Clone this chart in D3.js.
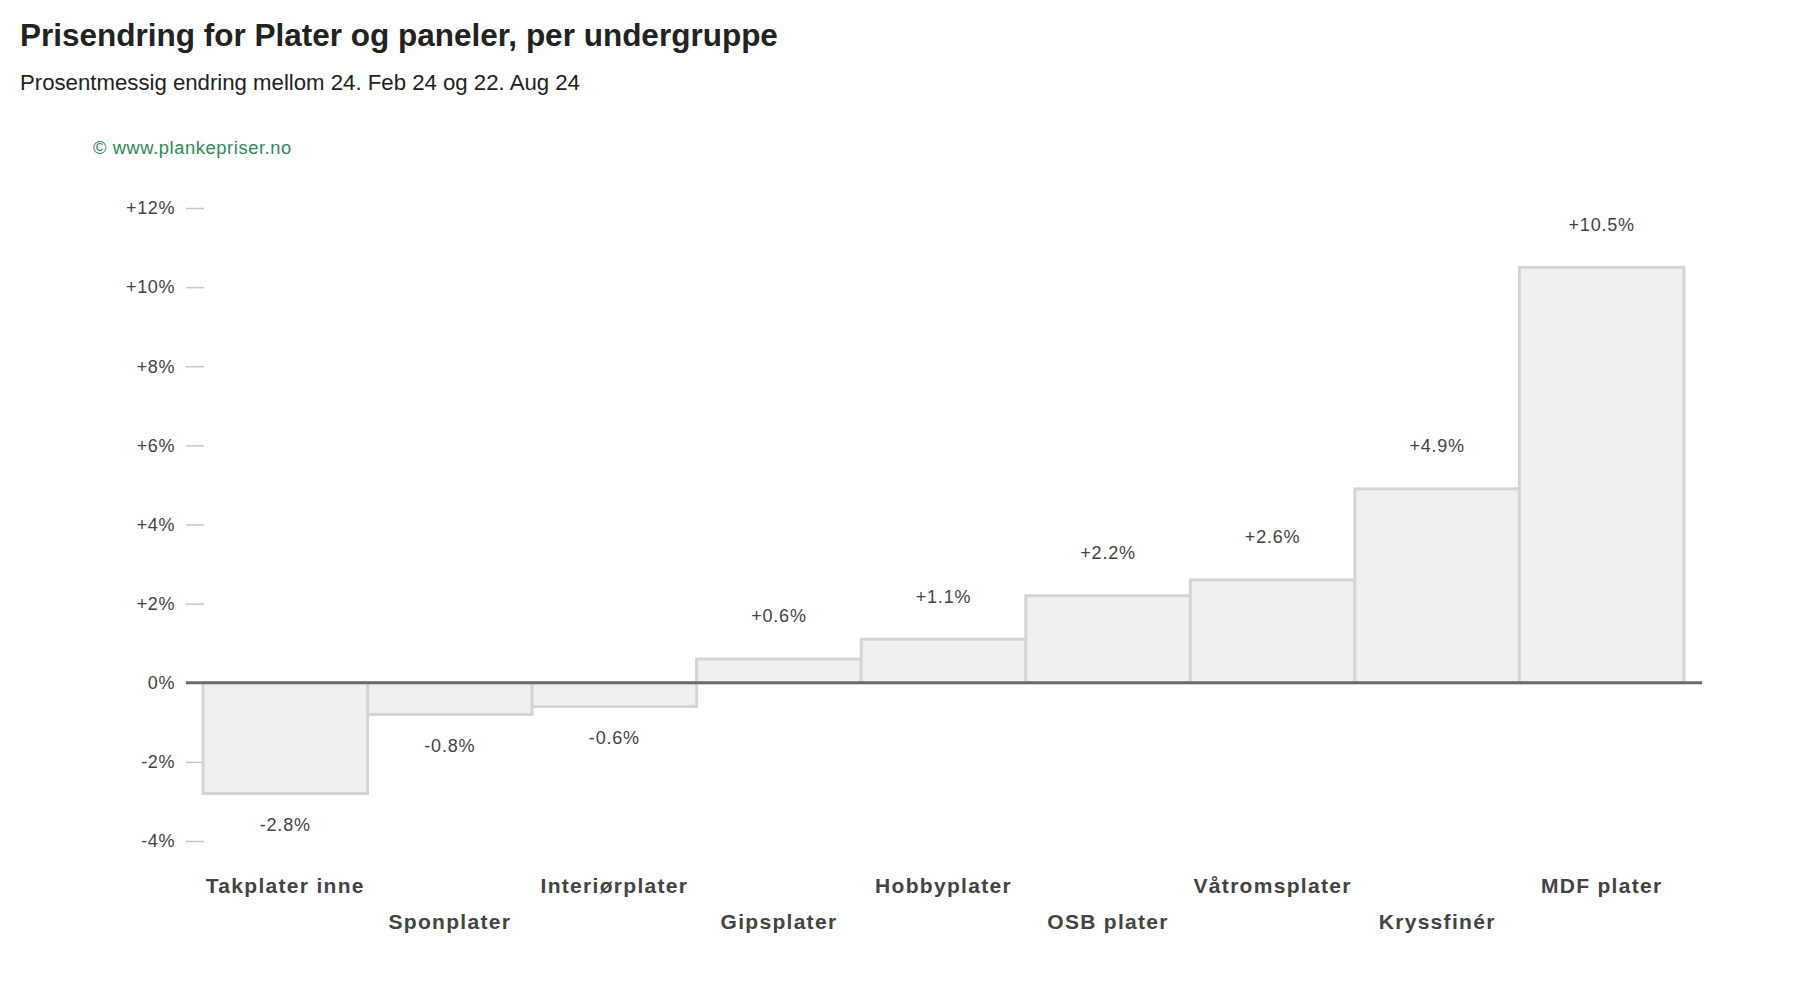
<!DOCTYPE html>
<html>
<head>
<meta charset="utf-8">
<script src="https://cdn.jsdelivr.net/npm/d3@7"></script>
<style>
  html, body { margin: 0; padding: 0; background: #fff; }
  svg { display: block; font-family: "Liberation Sans", Arial, sans-serif; }
</style>
</head>
<body>
<svg id="chart" width="1812" height="989"></svg>
<script>
const categories = ["Takplater inne", "Sponplater", "Interiørplater", "Gipsplater", "Hobbyplater", "OSB plater", "Våtromsplater", "Kryssfinér", "MDF plater"];
const values = [-2.8, -0.8, -0.6, 0.6, 1.1, 2.2, 2.6, 4.9, 10.5];
const yTicks = [-4, -2, 0, 2, 4, 6, 8, 10, 12];

const title = "Prisendring for Plater og paneler, per undergruppe";
const subtitle = "Prosentmessig endring mellom 24. Feb 24 og 22. Aug 24";
const credit = "© www.plankepriser.no";

const svg = d3.select("#chart");

const x = d3.scaleBand().domain(categories).range([203, 1684]).padding(0);
const y = d3.scaleLinear().domain([-4, 12]).range([841, 208]);

const fmt = v => (v > 0 ? "+" : v < 0 ? "-" : "") + Math.abs(v).toFixed(1) + "%";
const fmtTick = v => (v > 0 ? "+" : v < 0 ? "-" : "") + Math.abs(v) + "%";

svg.append("text").attr("x", 20).attr("y", 46).attr("font-size", 31.5).attr("font-weight", "bold")
  .attr("fill", "#222").text(title);
svg.append("text").attr("x", 20).attr("y", 90).attr("font-size", 22.2)
  .attr("fill", "#222").text(subtitle);
svg.append("text").attr("x", 93).attr("y", 154).attr("font-size", 18.3).attr("letter-spacing", 0.6)
  .attr("fill", "#2e8b57").text(credit);

// y axis
const yAxis = d3.axisLeft(y).tickValues(yTicks).tickFormat(fmtTick).tickSize(18).tickPadding(11);
const gy = svg.append("g").attr("transform", "translate(204,0)").call(yAxis);
gy.select(".domain").remove();
gy.selectAll(".tick line").attr("stroke", "#c8c8c8").attr("stroke-width", 1.5);
gy.selectAll(".tick text").attr("font-size", 18).attr("letter-spacing", 0.6).attr("fill", "#444")
  .attr("font-family", "Liberation Sans, Arial, sans-serif");

// bars
svg.append("g").selectAll("rect").data(values).join("rect")
  .attr("x", (d, i) => x(categories[i]))
  .attr("width", x.bandwidth())
  .attr("y", d => y(Math.max(0, d)))
  .attr("height", d => Math.abs(y(d) - y(0)))
  .attr("fill", "#f0f0f0")
  .attr("stroke", "#d5d5d5")
  .attr("stroke-width", 3);

// zero line
svg.append("line").attr("x1", 186).attr("x2", 1702).attr("y1", y(0)).attr("y2", y(0))
  .attr("stroke", "#6b6b6b").attr("stroke-width", 3);

// value labels
svg.append("g").selectAll("text").data(values).join("text")
  .attr("x", (d, i) => x(categories[i]) + x.bandwidth() / 2)
  .attr("y", d => d >= 0 ? y(d) - 43 : y(d) + 31)
  .attr("dy", "0.35em")
  .attr("text-anchor", "middle")
  .attr("font-size", 18).attr("letter-spacing", 0.8)
  .attr("fill", "#444")
  .text(d => fmt(d));

// category labels (staggered)
svg.append("g").selectAll("text").data(categories).join("text")
  .attr("x", d => x(d) + x.bandwidth() / 2)
  .attr("y", (d, i) => i % 2 === 0 ? 886 : 922)
  .attr("dy", "0.35em")
  .attr("text-anchor", "middle")
  .attr("font-size", 21).attr("font-weight", "bold").attr("letter-spacing", 1.3)
  .attr("fill", "#444")
  .text(d => d);
</script>
</body>
</html>
